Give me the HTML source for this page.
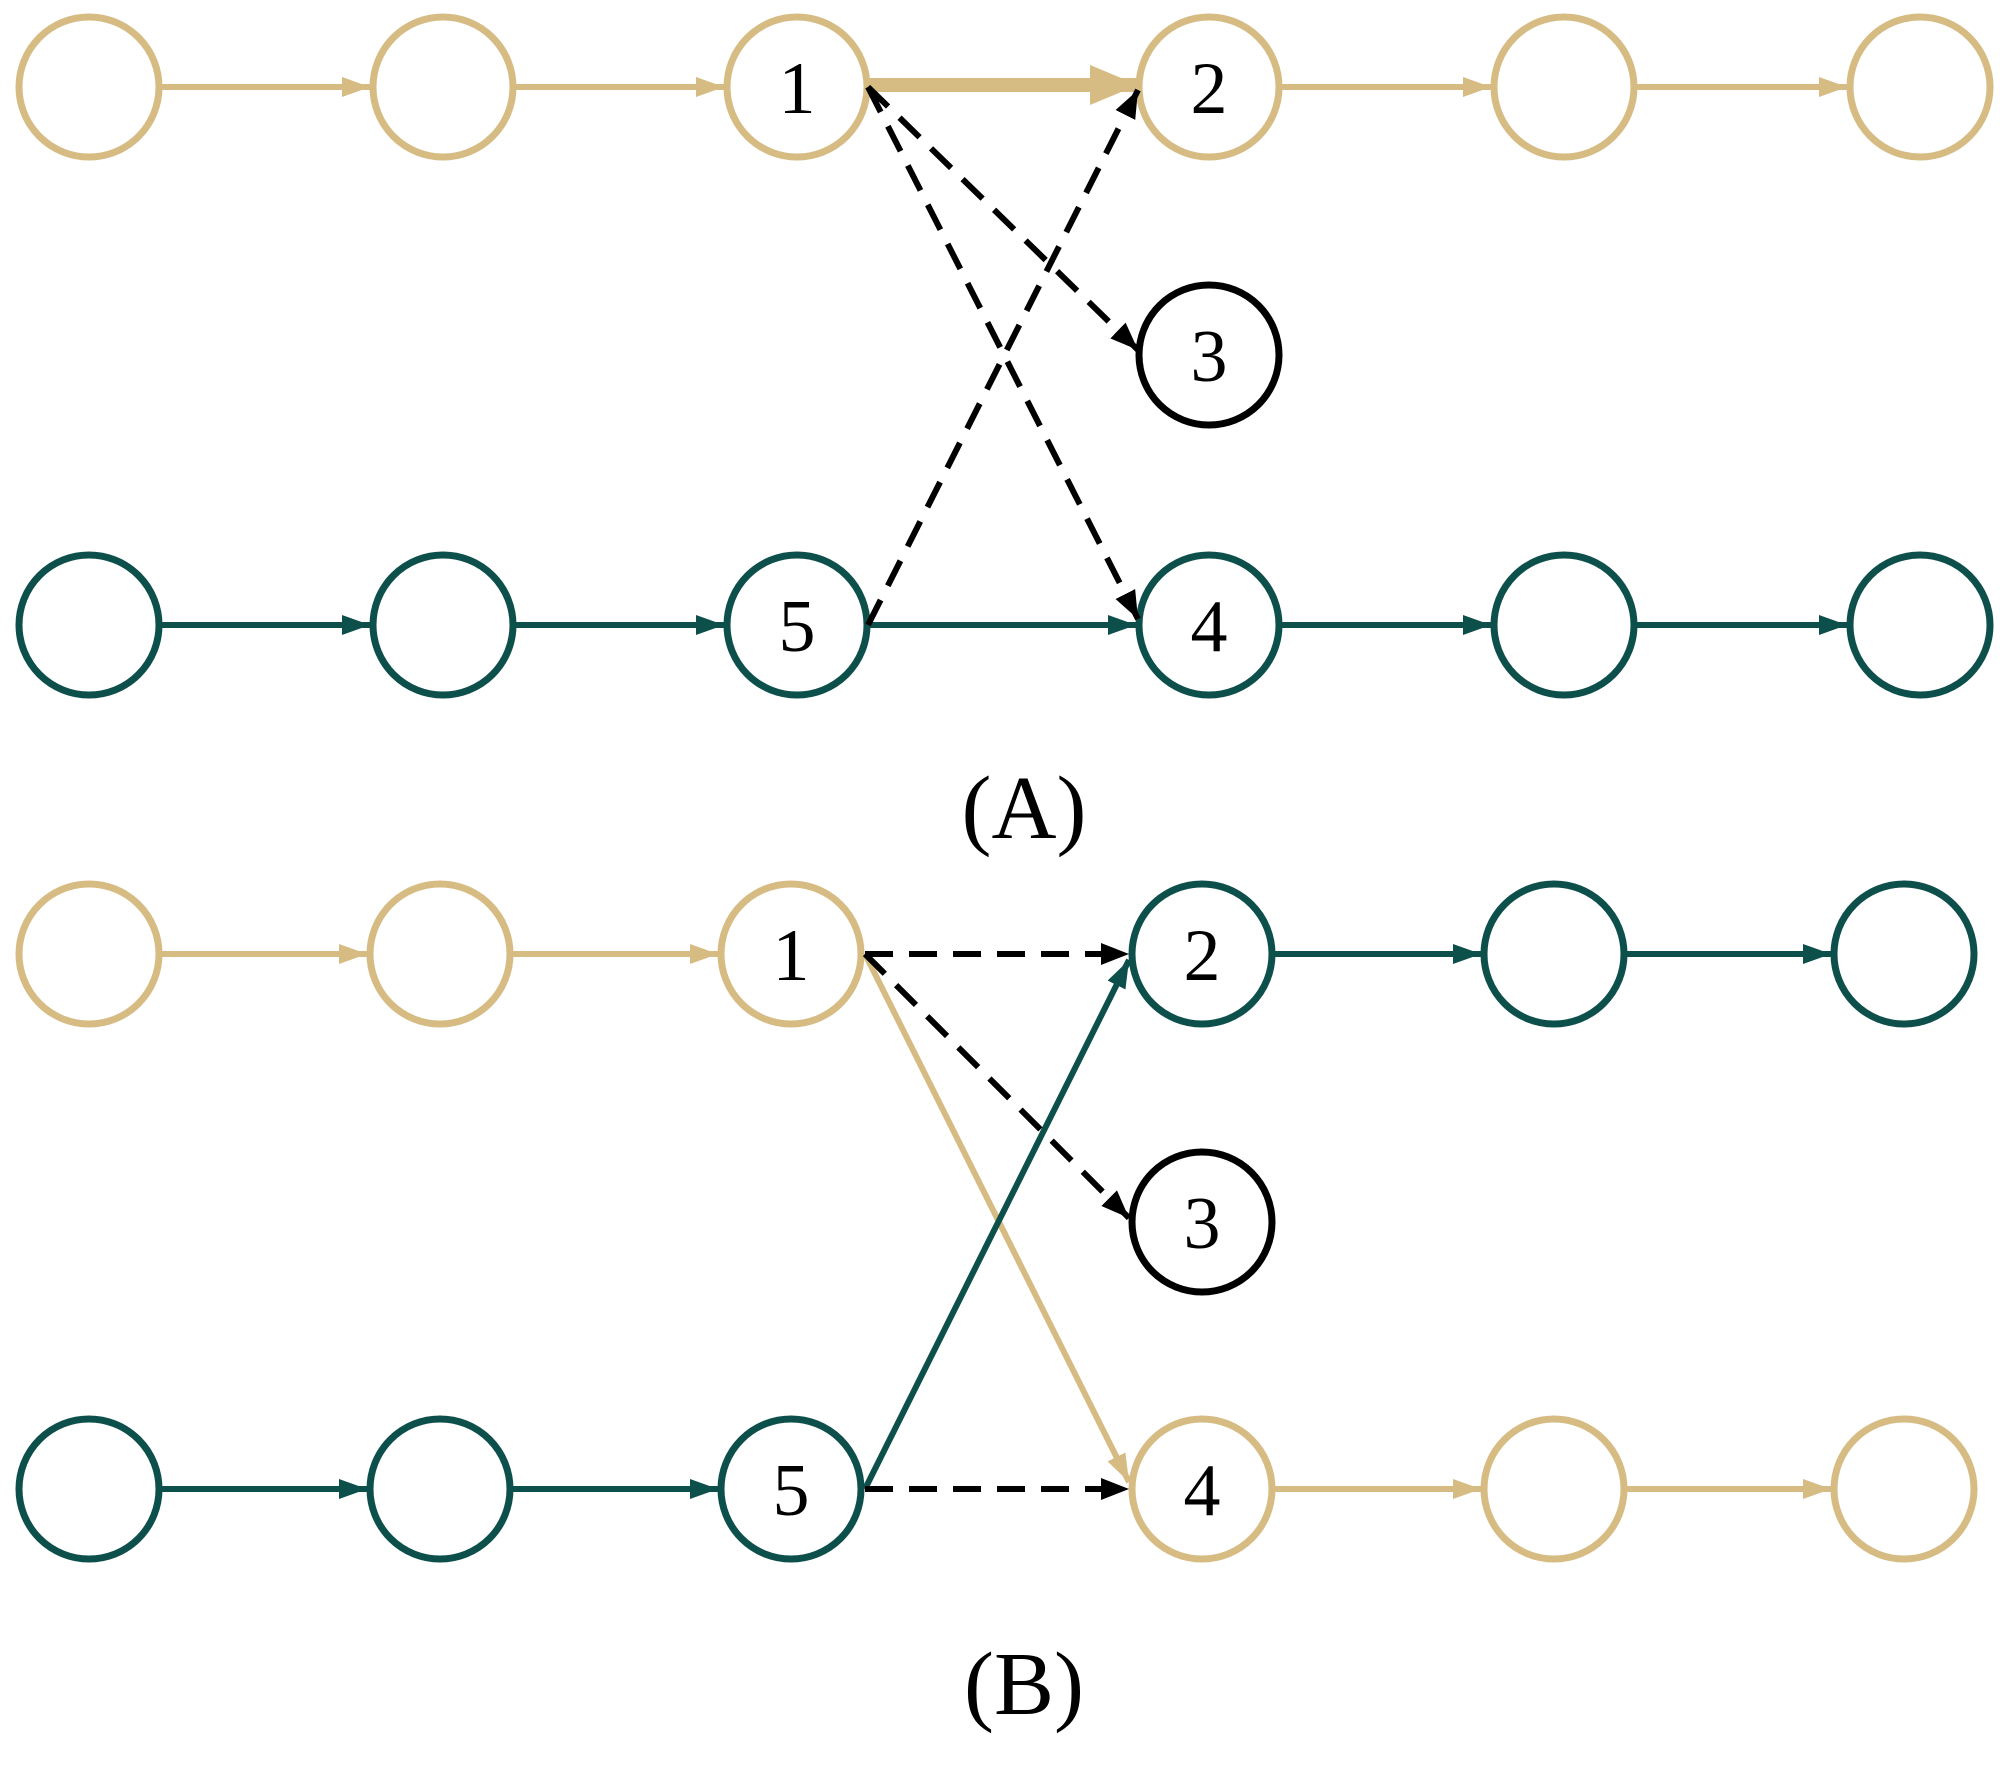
<!DOCTYPE html>
<html><head><meta charset="utf-8"><style>html,body{margin:0;padding:0;background:#fff}svg{display:block}</style></head>
<body>
<svg width="2000" height="1783" viewBox="0 0 2000 1783" xmlns="http://www.w3.org/2000/svg" font-family="'Liberation Serif', serif">
<defs>
<marker id="at" markerUnits="userSpaceOnUse" markerWidth="30" markerHeight="24" refX="28" refY="12" orient="auto"><path d="M0,2 L28,12 L0,22 Z" fill="#d6bb83"/></marker>
<marker id="atb" markerUnits="userSpaceOnUse" markerWidth="50" markerHeight="44" refX="48" refY="22" orient="auto"><path d="M0,2 L48,22 L0,42 Z" fill="#d6bb83"/></marker>
<marker id="ag" markerUnits="userSpaceOnUse" markerWidth="30" markerHeight="24" refX="28" refY="12" orient="auto"><path d="M0,2 L28,12 L0,22 Z" fill="#0d4f4b"/></marker>
<marker id="ak" markerUnits="userSpaceOnUse" markerWidth="30" markerHeight="26" refX="28" refY="13" orient="auto"><path d="M0,2 L28,13 L0,24 Z" fill="#000"/></marker>
</defs>
<g fill="#fff" stroke-width="7">
<g stroke="#d6bb83">
<circle cx="89" cy="87" r="70"/><circle cx="443" cy="87" r="70"/><circle cx="797" cy="87" r="70"/><circle cx="1209" cy="87" r="70"/><circle cx="1564" cy="87" r="70"/><circle cx="1920" cy="87" r="70"/>
</g>
<circle cx="1209" cy="355" r="70" stroke="#000"/>
<g stroke="#0d4f4b">
<circle cx="89" cy="625" r="70"/><circle cx="443" cy="625" r="70"/><circle cx="797" cy="625" r="70"/><circle cx="1209" cy="625" r="70"/><circle cx="1564" cy="625" r="70"/><circle cx="1920" cy="625" r="70"/>
</g>
<g stroke="#d6bb83">
<circle cx="89" cy="954" r="70"/><circle cx="440" cy="954" r="70"/><circle cx="791" cy="954" r="70"/>
<circle cx="1202" cy="1489" r="70"/><circle cx="1554" cy="1489" r="70"/><circle cx="1904" cy="1489" r="70"/>
</g>
<g stroke="#0d4f4b">
<circle cx="1202" cy="954" r="70"/><circle cx="1554" cy="954" r="70"/><circle cx="1904" cy="954" r="70"/>
<circle cx="89" cy="1489" r="70"/><circle cx="440" cy="1489" r="70"/><circle cx="791" cy="1489" r="70"/>
</g>
<circle cx="1202" cy="1222" r="70" stroke="#000"/>
</g>
<g fill="none">
<g stroke="#d6bb83" stroke-width="6">
<line x1="162" y1="87" x2="370" y2="87" marker-end="url(#at)"/>
<line x1="516" y1="87" x2="724" y2="87" marker-end="url(#at)"/>
<line x1="1282" y1="87" x2="1491" y2="87" marker-end="url(#at)"/>
<line x1="1637" y1="87" x2="1847" y2="87" marker-end="url(#at)"/>
</g>
<line x1="868" y1="85" x2="1138" y2="85" stroke="#d6bb83" stroke-width="14" marker-end="url(#atb)"/>
<g stroke="#0d4f4b" stroke-width="6">
<line x1="162" y1="625" x2="370" y2="625" marker-end="url(#ag)"/>
<line x1="516" y1="625" x2="724" y2="625" marker-end="url(#ag)"/>
<line x1="868" y1="625" x2="1136" y2="625" marker-end="url(#ag)"/>
<line x1="1282" y1="625" x2="1491" y2="625" marker-end="url(#ag)"/>
<line x1="1637" y1="625" x2="1847" y2="625" marker-end="url(#ag)"/>
</g>
<g stroke="#000" stroke-width="6" stroke-dasharray="28,16">
<line x1="868" y1="87" x2="1138" y2="350" marker-end="url(#ak)"/>
<line x1="868" y1="87" x2="1138" y2="619" marker-end="url(#ak)"/>
<line x1="868" y1="625" x2="1138" y2="90" marker-end="url(#ak)"/>
</g>
<g stroke="#d6bb83" stroke-width="6">
<line x1="162" y1="954" x2="367" y2="954" marker-end="url(#at)"/>
<line x1="513" y1="954" x2="718" y2="954" marker-end="url(#at)"/>
<line x1="865" y1="954" x2="1129" y2="1482" marker-end="url(#at)"/>
<line x1="1275" y1="1489" x2="1481" y2="1489" marker-end="url(#at)"/>
<line x1="1627" y1="1489" x2="1831" y2="1489" marker-end="url(#at)"/>
</g>
<g stroke="#0d4f4b" stroke-width="6">
<line x1="1275" y1="954" x2="1481" y2="954" marker-end="url(#ag)"/>
<line x1="1627" y1="954" x2="1831" y2="954" marker-end="url(#ag)"/>
<line x1="162" y1="1489" x2="367" y2="1489" marker-end="url(#ag)"/>
<line x1="513" y1="1489" x2="718" y2="1489" marker-end="url(#ag)"/>
<line x1="865" y1="1489" x2="1129" y2="960" marker-end="url(#ag)"/>
</g>
<g stroke="#000" stroke-width="6" stroke-dasharray="28,16">
<line x1="865" y1="954" x2="1129" y2="954" marker-end="url(#ak)"/>
<line x1="865" y1="954" x2="1129" y2="1218" marker-end="url(#ak)"/>
<line x1="865" y1="1489" x2="1129" y2="1489" marker-end="url(#ak)"/>
</g>
</g>
<g font-size="74" text-anchor="middle" fill="#000">
<text x="797" y="113">1</text><text x="1209" y="113">2</text><text x="1209" y="381">3</text>
<text x="1209" y="651">4</text><text x="797" y="651">5</text>
<text x="791" y="980">1</text><text x="1202" y="980">2</text><text x="1202" y="1248">3</text>
<text x="1202" y="1515">4</text><text x="791" y="1515">5</text>
</g>
<g font-size="90" text-anchor="middle" fill="#000">
<text x="1024" y="838">(A)</text>
<text x="1024" y="1714">(B)</text>
</g>
</svg>
</body></html>
